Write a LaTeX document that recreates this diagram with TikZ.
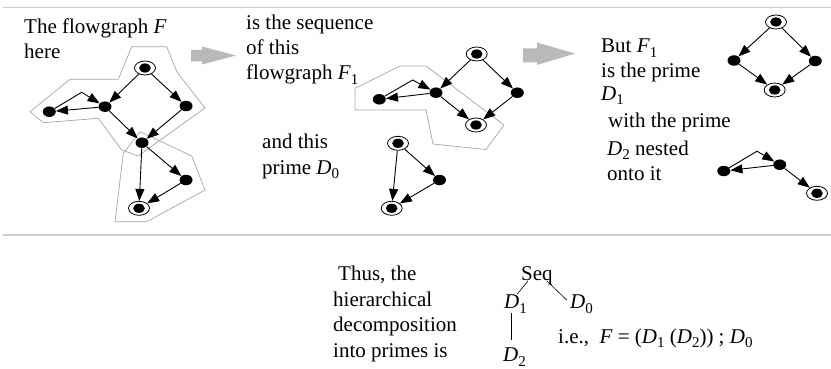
\documentclass[tikz,border=0pt]{standalone}
\usepackage{fontspec}
\setmainfont{Liberation Serif}
\usetikzlibrary{arrows.meta,shapes.geometric,calc}
\newcommand\mysub[1]{\raisebox{-0.5ex}{\fontsize{15}{15}\selectfont #1}}
\begin{document}
\begin{tikzpicture}[x=1pt,y=-1pt,
 txt/.style={anchor=base west, inner sep=0pt, font=\fontsize{21}{25}\selectfont},
 dotn/.style={ellipse, fill=black, minimum width=13pt, minimum height=10.5pt, inner sep=0pt},
 ringn/.style={ellipse, draw, line width=0.8pt, minimum width=21pt, minimum height=14pt, inner sep=0pt,
   path picture={\fill (path picture bounding box.center) ellipse [x radius=5.8pt, y radius=4.6pt];}},
 arr/.style={line width=0.9pt, -{Triangle[length=12pt,width=9pt]}},
 hull/.style={draw=gray!70, line width=0.7pt},
 block/.style={fill=gray!55},
 rulel/.style={draw=gray!40, line width=1.6pt},
 tline/.style={line width=0.6pt}]
\useasboundingbox (0,0) rectangle (831,369);

% rules
\draw[rulel] (3,7.5) -- (831,7.5);
\draw[rulel] (3,235) -- (831,235);

% block arrows
\fill[block] (191,50) -- (202,50) -- (202,46.5) -- (236,55.5) -- (202,64.5) -- (202,61.5) -- (191,61.5) -- cycle;
\fill[block] (523,48.5) -- (537,48.5) -- (537,42.5) -- (575,53.5) -- (537,65) -- (537,62.5) -- (523,62.5) -- cycle;

% hulls
\draw[hull] (131.7,46.7) -- (166.7,46.7) -- (177,72) -- (205,108) -- (138,156) -- (121.7,150) -- (98.3,118.3) -- (43.3,122.7) -- (30,111.7) -- (70,79.3) -- (118.3,79.3) -- cycle;
\draw[hull] (140,131.7) -- (191.7,156) -- (205,190) -- (146.7,221.7) -- (115,221.7) -- (123.3,153.3) -- cycle;
\draw[hull] (355,88.3) -- (400,66) -- (426,66) -- (504,125) -- (486,149.5) -- (433,144) -- (426,110) -- (355,110) -- cycle;

% graph F
\node[ringn] (a1) at (145,68) {};
\node[dotn] (a2) at (105,106.7) {};
\node[dotn] (a3) at (186,106) {};
\node[dotn] (a4) at (49.3,111.7) {};
\node[dotn] (a5) at (142,142.7) {};
\node[dotn] (a6) at (186,180) {};
\node[ringn] (a7) at (139,208.3) {};
\coordinate (ab) at (81.7,92.3);
\draw[arr] (a1) -- (a2);
\draw[arr] (a1) -- (a3);
\draw[arr] (a2) -- (a4);
\draw[arr] (a4) -- (ab) -- (a2);
\draw[arr] (a2) -- (a5);
\draw[arr] (a3) -- (a5);
\draw[arr] (a5) -- (a7);
\draw[arr] (a5) -- (a6);
\draw[arr] (a6) -- (a7);

% graph F1
\node[ringn] (b1) at (476.7,54) {};
\node[dotn] (b2) at (436,92.7) {};
\node[dotn] (b3) at (379.3,99.3) {};
\node[dotn] (b4) at (517.3,92.7) {};
\node[ringn] (b5) at (476,125) {};
\coordinate (bb) at (412.7,80);
\draw[arr] (b1) -- (b2);
\draw[arr] (b1) -- (b4);
\draw[arr] (b2) -- (b3);
\draw[arr] (b3) -- (bb) -- (b2);
\draw[arr] (b2) -- (b5);
\draw[arr] (b4) -- (b5);

% prime D0
\node[ringn] (c1) at (398,143.3) {};
\node[dotn] (c2) at (439.5,180) {};
\node[ringn] (c3) at (391.7,208.3) {};
\draw[arr] (c1) -- (c2);
\draw[arr] (c2) -- (c3);
\draw[arr] (c1) -- (c3);

% prime D1
\node[ringn] (d1) at (776,22) {};
\node[dotn] (d2) at (734,60.5) {};
\node[dotn] (d3) at (815.3,61) {};
\node[ringn] (d4) at (774.7,90) {};
\draw[arr] (d1) -- (d2);
\draw[arr] (d1) -- (d3);
\draw[arr] (d2) -- (d4);
\draw[arr] (d3) -- (d4);

% prime D2
\node[dotn] (e1) at (723.8,171) {};
\node[dotn] (e2) at (779.7,164.7) {};
\coordinate (eb) at (757,151.2);
\node[ringn] (e3) at (817,193.3) {};
\draw[arr] (e2) -- (e1);
\draw[arr] (e1) -- (eb) -- (e2);
\draw[arr] (e2) -- (e3);

% texts
\node[txt] (t1) at (24,34) {The flowgraph \textit{F}};
\node[txt] (t2) at (24,59) {here};
\node[txt] (t3) at (246,30) {is the sequence};
\node[txt] (t4) at (246,55) {of this};
\node[txt] (t5) at (246,80) {flowgraph \textit{F}\mysub{1}};
\node[txt] (t6) at (262,148) {and this};
\node[txt] (t7) at (262,174) {prime \textit{D}\mysub{0}};
\node[txt] (t8) at (601,53) {But \textit{F}\mysub{1}};
\node[txt] (t9) at (601,78) {is the prime};
\node[txt] (t10) at (601,100) {\textit{D}\mysub{1}};
\node[txt] (t11) at (608,128) {with the prime};
\node[txt] (t12) at (607,155) {\textit{D}\mysub{2} nested};
\node[txt] (t13) at (607,180) {onto it};
\node[txt] (t14) at (338,280.5) {Thus, the};
\node[txt] (t15) at (333,306) {hierarchical};
\node[txt] (t16) at (333,331.7) {decomposition};
\node[txt] (t17) at (333,357.3) {into primes is};

% tree
\node[txt] (seq) at (521,280) {Seq};
\node[txt] (tD1) at (504,308.3) {\textit{D}\mysub{1}};
\node[txt] (tD0) at (570,308.3) {\textit{D}\mysub{0}};
\node[txt] (tD2) at (503,361.7) {\textit{D}\mysub{2}};
\node[txt] (ie) at (558,343) {i.e.,\ \ \textit{F} = (\textit{D}\mysub{1} (\textit{D}\mysub{2})) ; \textit{D}\mysub{0}};
\draw[tline] ($(seq.base west)+(7,1)$) -- ($(tD1.base west)+(13,-14)$);
\draw[tline] ($(seq.base west)+(26,1)$) -- ($(tD0.base west)+(-3,-8)$);
\draw[tline] ($(tD1.base west)+(7,5)$) -- ($(tD2.base west)+(8,-21.5)$);
\end{tikzpicture}
\end{document}
